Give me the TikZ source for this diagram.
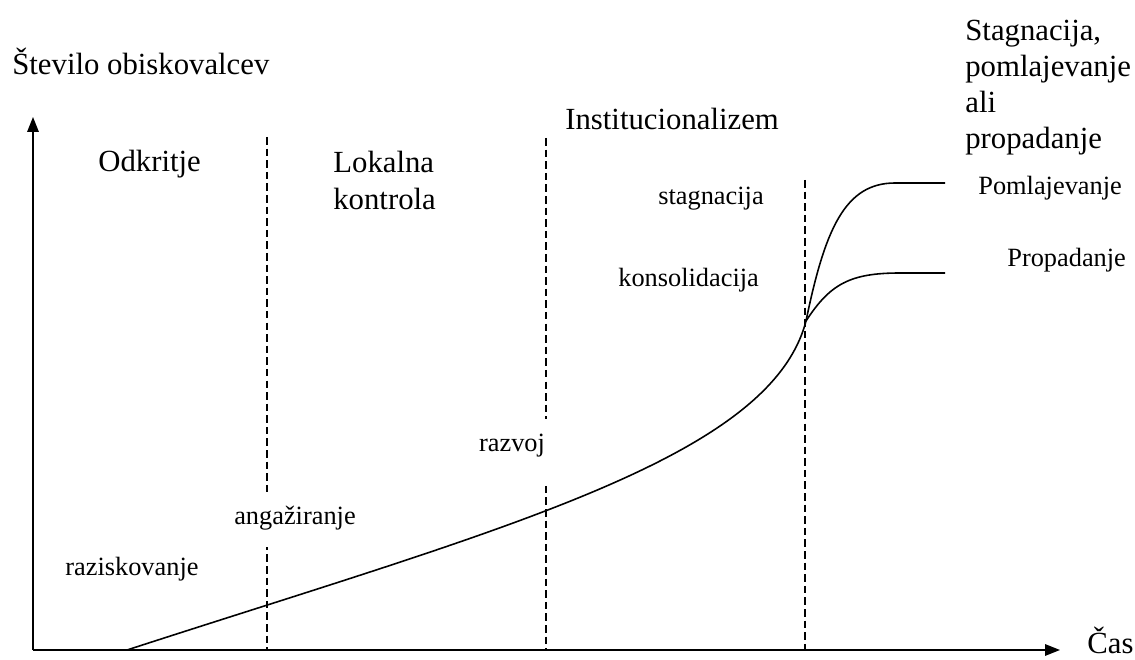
\documentclass[tikz,border=0pt]{standalone}
\usepackage{fontspec}
\setmainfont{Liberation Serif}
\usetikzlibrary{arrows.meta}

\begin{document}
\begin{tikzpicture}[x=0.02cm,y=0.02cm,
    axisline/.style={-{Triangle[length=8.5pt,width=6.5pt]},line width=1pt},
    phaseline/.style={dash pattern=on 4.3pt off 2.3pt,line width=0.8pt},
    trend/.style={line width=0.9pt},
    bigtext/.style={anchor=base west,inner sep=0pt,font=\fontsize{17.5}{20.6}\selectfont,align=left},
    smalltext/.style={anchor=base west,inner sep=0pt,font=\fontsize{15}{18}\selectfont},
    masked/.style={anchor=base,fill=white,inner xsep=3pt,font=\fontsize{15}{18}\selectfont}]
  \useasboundingbox (0,0) rectangle (1135,659);
  % axes
  \coordinate (origin) at (33,9);
  \coordinate (ytip) at (33,542);
  \coordinate (xtip) at (1060,9);
  \draw[axisline] (origin) -- (ytip);
  \draw[axisline] (origin) -- (xtip);
  % phase borders
  \coordinate (border1) at (267,522);
  \coordinate (border2) at (546,521);
  \coordinate (border3) at (805,479);
  \foreach \b in {border1,border2,border3}
    \draw[phaseline] (\b) -- (\b |- origin);
  % visitor curve
  \coordinate (start) at (127,9);
  \coordinate (split) at (806,338);
  \coordinate (upend) at (945,476);
  \coordinate (lowend) at (945,386);
  \draw[trend] (start) .. controls (500,130) and (770,200) .. (split);
  \draw[trend] (split) .. controls (825,430) and (845,476) .. (895,476) -- (upend);
  \draw[trend] (split) .. controls (830,375) and (850,386) .. (900,386) -- (lowend);
  % labels (base of a multi-line node is its last line)
  \node[bigtext] (yname) at (12,584) {Število obiskovalcev};
  \node[bigtext] (xname) at (1087,6) {Čas};
  \node[bigtext] (odkritje) at (98,487) {Odkritje};
  \node[bigtext,font=\fontsize{17.5}{21.6}\selectfont] (lokalna) at (333,449) {Lokalna\\kontrola};
  \node[bigtext] (instit) at (565,529) {Institucionalizem};
  \node[bigtext] (stagfaza) at (965,510) {Stagnacija,\\pomlajevanje\\ali\\propadanje};
  \node[smalltext] (stagnacija) at (658,454) {stagnacija};
  \node[smalltext] (konsol) at (618,372) {konsolidacija};
  \node[smalltext] (pomlaj) at (978,464) {Pomlajevanje};
  \node[smalltext] (propad) at (1007,392) {Propadanje};
  \node[smalltext] (razisk) at (65,84) {raziskovanje};
  \node[masked,text height=4pt,text depth=4pt,inner ysep=15pt] (razvoj) at (512,207) {razvoj};
  \node[masked,text height=6pt,text depth=0.5pt,inner ysep=12pt] (angaz) at (295,134) {angažiranje};
\end{tikzpicture}
\end{document}
